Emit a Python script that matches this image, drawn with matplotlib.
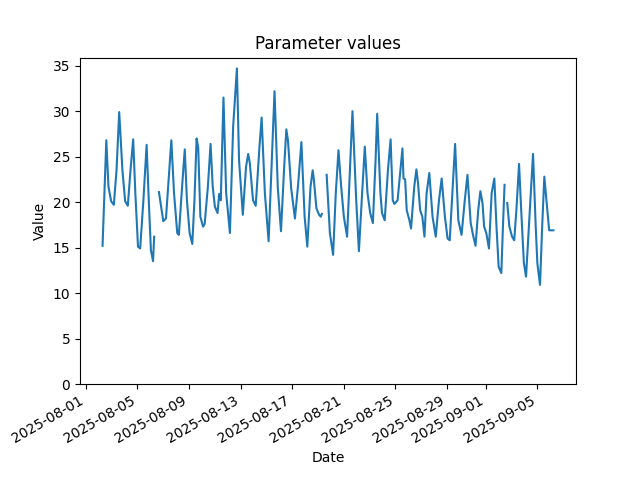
import numpy as np
import pandas as pd
import matplotlib
matplotlib.use("Agg")
import matplotlib.pyplot as plt

start = "2025-08-01 00:00"
# hours since start; NaN values mark gaps in the record
hours = [
    31, 38, 42, 47, 52, 57, 62, 68, 73, 78, 83, 88, 92, 97, 101, 107, 113, 117, 121, 125, 127,
    131,
    136, 140, 144, 149, 159, 164, 170, 173, 179, 184, 188, 193, 198, 202, 206, 209, 213, 218, 221,
    227, 232, 236, 240, 245, 248, 251, 256, 261, 268, 274, 281, 285, 292, 298, 302, 305, 311, 316,
    323, 327, 333, 340, 346, 351, 357, 363, 369, 373, 376, 382, 389, 395, 401, 407, 412, 418, 422,
    424, 429, 434, 437, 439,
    443,
    448, 454, 460, 465, 470, 475, 480, 486, 491, 496, 503, 508, 514, 519, 524, 529, 534, 539, 542,
    548, 551, 556, 562, 567, 571, 574, 580, 589, 591, 594, 597, 602, 605, 611, 615, 618, 622, 626,
    630, 634, 639, 645, 651, 657, 662, 668, 673, 677, 682, 687, 693, 699, 705, 710, 716, 721, 725,
    730, 734, 738, 741, 745, 750, 755, 760, 764, 768, 773, 776, 779,
    781,
    784, 788, 793, 797, 801, 806, 810, 815, 819, 826, 832, 837, 840, 845, 849, 853, 857, 862, 866, 870,
]
values = [
    15.2, 26.8, 21.7, 20.1, 19.7, 23.5, 29.9, 23.5, 20.1, 19.6, 23.5, 26.9, 21.0, 15.1, 14.9, 20.2, 26.3, 20.2, 14.7, 13.5, 16.2,
    np.nan,
    21.1, 19.5, 17.9, 18.2, 26.8, 21.0, 16.6, 16.4, 21.7, 25.8, 20.2, 16.6, 15.4, 20.2, 27.0, 26.0, 18.4, 17.3, 17.6,
    21.7, 26.4, 21.7, 19.5, 18.8, 20.9, 20.2, 31.5, 21.0, 16.6, 28.3, 34.7, 24.6, 18.6, 23.9, 25.3, 24.3, 20.2, 19.6,
    26.1, 29.3, 21.0, 15.7, 24.6, 32.2, 21.7, 16.8, 23.9, 28.0, 26.8, 21.5, 18.2, 22.0, 26.6, 18.4, 15.1, 21.7, 23.5,
    22.6, 19.3, 18.6, 18.4, 18.7,
    np.nan,
    23.0, 16.6, 14.2, 21.0, 25.7, 21.7, 18.4, 16.2, 23.2, 30.0, 20.2, 14.6, 21.0, 26.1, 21.0, 18.8, 17.7, 24.6, 29.7,
    21.0, 18.8, 18.0, 23.5, 26.9, 20.2, 19.8, 20.2, 25.9, 22.6, 22.5, 19.1, 18.0, 17.1, 21.7, 23.6, 22.1, 19.1, 18.4,
    16.2, 21.0, 23.2, 18.4, 16.2, 20.2, 22.6, 18.4, 16.0, 15.8, 21.0, 26.4, 18.0, 16.4, 20.2, 23.0, 17.7, 16.2, 15.2,
    19.1, 21.2, 19.9, 17.3, 16.6, 14.9, 21.0, 22.6, 17.3, 12.9, 12.2, 17.3, 21.9,
    np.nan,
    19.9, 17.3, 16.2, 15.8, 19.1, 24.2, 19.1, 13.3, 11.8, 19.1, 25.3, 17.3, 13.3, 10.9, 17.3, 22.8, 20.2, 16.9, 16.9, 16.9,
]

dates = pd.Timestamp(start) + pd.to_timedelta(hours, unit="h")

fig, ax = plt.subplots(figsize=(6.4, 4.8), dpi=100)
ax.plot(dates, values)
ax.set_ylim(bottom=0)
ax.set_title("Parameter values")
ax.set_xlabel("Date")
ax.set_ylabel("Value")
fig.autofmt_xdate()
fig.savefig("out.png")
